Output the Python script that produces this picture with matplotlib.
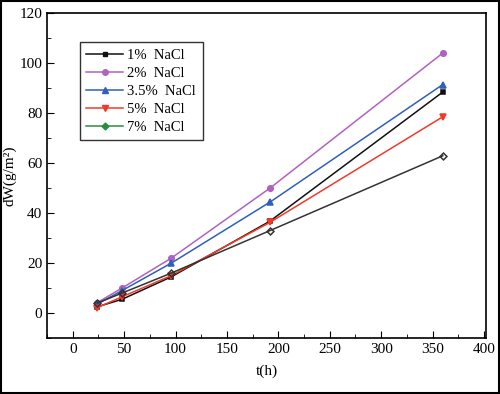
import matplotlib
matplotlib.use("Agg")
import matplotlib.pyplot as plt
from matplotlib.lines import Line2D
from matplotlib.ticker import MultipleLocator

t = [24, 48, 96, 192, 360]
labels = ["1%  NaCl", "2%  NaCl", "3.5%  NaCl", "5%  NaCl", "7%  NaCl"]
w1 = [2.5, 5.5, 14.5, 36.8, 88.4]
w2 = [4.2, 10.0, 22.0, 50.0, 104.0]
w35 = [3.6, 9.0, 20.0, 44.4, 91.4]
w5 = [2.2, 6.5, 15.0, 36.3, 78.5]
w7 = [4.0, 8.0, 16.0, 33.0, 62.9]

series = [w1, w2, w35, w5, w7]
colors = ["#111111", "#b062c0", "#2f5fbf", "#f23a2a", "#333333"]
legend_colors = ["#111111", "#b062c0", "#2f5fbf", "#f23a2a", "#2e8b3e"]
markers = ["s", "o", "^", "v", "D"]
msizes = [3.5, 4, 5, 5, 3.5]

plt.rcParams['font.family'] = ['Liberation Serif', 'DejaVu Serif']

fig = plt.figure(figsize=(5, 3.94), dpi=100)
ax = fig.add_axes([0.094, 0.142, 0.878, 0.825])

for y, c, m, ms in zip(series, colors, markers, msizes):
    mfc = c if m != "D" else "none"
    ax.plot(t, y, color=c, marker=m, markersize=ms, lw=1.1,
            markerfacecolor=mfc, markeredgecolor=c, markeredgewidth=1.1)

handles = [Line2D([0], [0], color=c, marker=m, markersize=ms, lw=1.1)
           for c, m, ms in zip(legend_colors, markers, msizes)]
leg = ax.legend(handles, labels, loc="upper left", bbox_to_anchor=(0.075, 0.911),
                borderaxespad=0, fontsize=10.5, frameon=True, fancybox=False,
                edgecolor="black", handlelength=2.5, labelspacing=0.33,
                borderpad=0.45, handletextpad=0.3)
leg.get_frame().set_linewidth(1.0)

ax.set_xlim(-25, 402)
ax.set_ylim(-10, 120)
ax.xaxis.set_major_locator(MultipleLocator(50))
ax.xaxis.set_minor_locator(MultipleLocator(25))
ax.yaxis.set_major_locator(MultipleLocator(20))
ax.yaxis.set_minor_locator(MultipleLocator(10))
ax.tick_params(which="both", direction="in", top=False, right=False, labelsize=11)
ax.tick_params(which="major", length=5)
ax.tick_params(which="minor", length=3)
for s in ax.spines.values():
    s.set_linewidth(1.2)

ax.set_xlabel("t(h)", fontsize=11, labelpad=6)
ax.set_ylabel("dW(g/m²)", fontsize=11, labelpad=2)

fig.patches.append(plt.Rectangle((0.002, 0.003), 0.996, 0.994, transform=fig.transFigure,
                                 fill=False, edgecolor="black", lw=1.5))

fig.savefig("out.png", dpi=100)
